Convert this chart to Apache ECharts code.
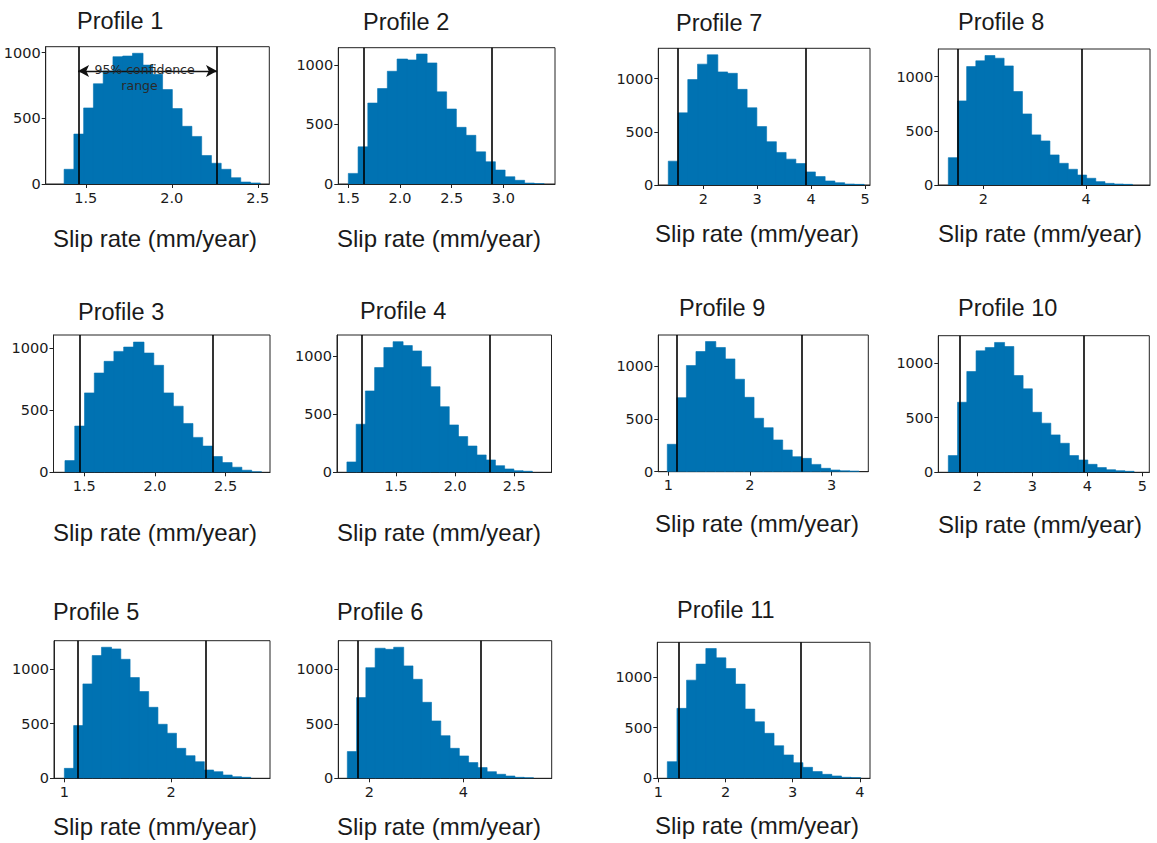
<!DOCTYPE html>
<html>
<head>
<meta charset="utf-8">
<script src="https://cdn.jsdelivr.net/npm/echarts@6/dist/echarts.min.js"></script>
<style>
html,body{margin:0;padding:0;background:#ffffff;}
#chart{width:1157px;height:843px;}
</style>
</head>
<body>
<div id="chart"></div>
<script>
// ---------------- DATA ----------------
const profileNames = ['Profile 1','Profile 2','Profile 3','Profile 4','Profile 5','Profile 6',
                      'Profile 7','Profile 8','Profile 9','Profile 10','Profile 11'];
const xAxisTitle = 'Slip rate (mm/year)';
const yTickLabels = ['0', '500', '1000'];
const annotationText = ['95% confidence', 'range'];

// histogram counts (20 bins each)
const counts1  = [112, 380, 579, 763, 860, 969, 974, 995, 905, 835, 719, 574, 439, 362, 217, 158, 112, 48, 15, 8];
const counts2  = [89, 312, 680, 802, 947, 1050, 1042, 1092, 1017, 774, 630, 476, 409, 270, 187, 117, 61, 31, 8, 3];
const counts3  = [94, 372, 639, 799, 893, 973, 1008, 1048, 960, 861, 639, 532, 393, 281, 211, 127, 78, 41, 17, 5];
const counts4  = [89, 413, 699, 900, 1072, 1123, 1089, 1043, 908, 736, 564, 407, 307, 226, 149, 106, 57, 29, 14, 9];
const counts5  = [91, 482, 863, 1122, 1198, 1183, 1088, 921, 793, 649, 494, 412, 274, 207, 152, 76, 61, 30, 15, 9];
const counts6  = [245, 740, 1015, 1193, 1183, 1202, 1031, 908, 697, 526, 391, 275, 205, 144, 98, 61, 37, 21, 9, 6];
const counts7  = [224, 678, 991, 1136, 1224, 1063, 1050, 899, 726, 549, 407, 306, 243, 202, 123, 79, 38, 22, 9, 6];
const counts8  = [252, 775, 1092, 1145, 1194, 1169, 1098, 862, 655, 462, 406, 277, 200, 145, 92, 62, 31, 15, 9, 6];
const counts9  = [259, 700, 1003, 1136, 1230, 1174, 1066, 874, 703, 505, 416, 300, 205, 142, 126, 69, 32, 16, 9, 6];
const counts10 = [153, 642, 924, 1113, 1144, 1190, 1153, 887, 765, 550, 450, 343, 266, 153, 113, 73, 43, 24, 15, 9];
const counts11 = [164, 689, 967, 1125, 1279, 1187, 1082, 928, 682, 557, 443, 321, 230, 154, 108, 66, 39, 23, 10, 7];

// lower / upper edge of the binned range (mm/year)
const binRange1  = [1.374, 2.510];
const binRange2  = [1.500, 3.387];
const binRange3  = [1.363, 2.748];
const binRange4  = [1.083, 2.647];
const binRange5  = [1.000, 2.740];
const binRange6  = [1.532, 5.475];
const binRange7  = [1.350, 4.970];
const binRange8  = [1.318, 4.890];
const binRange9  = [0.988, 3.327];
const binRange10 = [1.473, 4.836];
const binRange11 = [1.134, 4.000];

// 95% confidence bounds (vertical lines)
const ci1  = [1.455, 2.263];
const ci2  = [1.645, 2.890];
const ci3  = [1.465, 2.413];
const ci4  = [1.210, 2.289];
const ci5  = [1.131, 2.325];
const ci6  = [1.752, 4.355];
const ci7  = [1.524, 3.895];
const ci8  = [1.500, 3.916];
const ci9  = [1.110, 2.637];
const ci10 = [1.685, 3.940];
const ci11 = [1.297, 3.119];

// x tick labels
const xTicks1  = ['1.5', '2.0', '2.5'];
const xTicks2  = ['1.5', '2.0', '2.5', '3.0'];
const xTicks3  = ['1.5', '2.0', '2.5'];
const xTicks4  = ['1.5', '2.0', '2.5'];
const xTicks5  = ['1', '2'];
const xTicks6  = ['2', '4'];
const xTicks7  = ['2', '3', '4', '5'];
const xTicks8  = ['2', '4'];
const xTicks9  = ['1', '2', '3'];
const xTicks10 = ['2', '3', '4', '5'];
const xTicks11 = ['1', '2', '3', '4'];

const annotationLevel = 860; // count level of the confidence-range arrow in Profile 1

// ---------------- LAYOUT (styles / positions) ----------------
const BAR_COLOR = '#0072B2';
const FRAME = '#222222';
const TXT = '#1a1a1a';
const SANS = '"Liberation Sans", Arial, sans-serif';
const TICKFONT = 'DejaVu Sans, sans-serif';

// grid box [left, top, right, bottom] in px, axis limits, title & xlabel anchors
const layout = [
  {grid:[45.7, 46.7, 269.3, 184], xr:[1.267, 2.567], ymax:1045, title:[77, 20.7],  xl:[53, 238]},
  {grid:[338.3, 47.7, 555, 184],  xr:[1.403, 3.50],  ymax:1145, title:[363, 21.7], xl:[337, 238]},
  {grid:[53.5, 335, 270, 472.3],  xr:[1.282, 2.814], ymax:1105, title:[78, 311.7], xl:[53, 532]},
  {grid:[337, 335, 551.5, 472.3], xr:[0.999, 2.816], ymax:1180, title:[360, 310.7],xl:[337, 532]},
  {grid:[54, 640.7, 270, 778.3],  xr:[0.903, 2.928], ymax:1258, title:[53, 611.7], xl:[53, 826.7]},
  {grid:[338.3, 640.7, 551.7, 778.3], xr:[1.34, 5.88], ymax:1262, title:[337, 611.7], xl:[337, 826.7]},
  {grid:[658.3, 48.3, 870, 185],  xr:[1.165, 5.093], ymax:1285, title:[676, 22.7], xl:[655, 233]},
  {grid:[938.3, 49, 1150, 185],   xr:[1.123, 5.247], ymax:1254, title:[958, 21.7], xl:[938, 233]},
  {grid:[658.3, 335, 868.3, 471.7], xr:[0.878, 3.449], ymax:1292, title:[679, 308.3], xl:[655, 523]},
  {grid:[938.3, 335.7, 1149.3, 472.3], xr:[1.291, 5.127], ymax:1252, title:[958, 308.3], xl:[938, 524]},
  {grid:[657.3, 642.3, 870, 778.3], xr:[0.985, 4.15], ymax:1340, title:[677, 610], xl:[655, 825]}
];

const allCounts = [counts1,counts2,counts3,counts4,counts5,counts6,counts7,counts8,counts9,counts10,counts11];
const allRanges = [binRange1,binRange2,binRange3,binRange4,binRange5,binRange6,binRange7,binRange8,binRange9,binRange10,binRange11];
const allCI = [ci1,ci2,ci3,ci4,ci5,ci6,ci7,ci8,ci9,ci10,ci11];
const allXTicks = [xTicks1,xTicks2,xTicks3,xTicks4,xTicks5,xTicks6,xTicks7,xTicks8,xTicks9,xTicks10,xTicks11];

function histData(counts, range) {
  const n = counts.length;
  const w = (range[1] - range[0]) / n;
  return counts.map((c, i) => [range[0] + i * w, range[0] + (i + 1) * w, c]);
}

function renderBar(params, api) {
  const x0 = api.value(0), x1 = api.value(1), h = api.value(2);
  const p0 = api.coord([x0, 0]);
  const p1 = api.coord([x1, h]);
  return {
    type: 'rect',
    shape: { x: p0[0], y: p1[1], width: (p1[0] - p0[0]) + 0.8, height: p0[1] - p1[1] },
    style: { fill: BAR_COLOR, stroke: BAR_COLOR, lineWidth: 0.6 }
  };
}

const grids = [], xAxes = [], yAxes = [], series = [];
const yTickVals = yTickLabels.map(Number);

layout.forEach((L, i) => {
  const g = L.grid;
  grids.push({
    left: g[0], top: g[1], width: g[2] - g[0], height: g[3] - g[1],
    show: true, borderColor: FRAME, borderWidth: 1, backgroundColor: 'transparent',
    containLabel: false
  });
  const tickLabels = allXTicks[i];
  const tickVals = tickLabels.map(Number);
  xAxes.push({
    type: 'value', gridIndex: i, min: L.xr[0], max: L.xr[1],
    axisLine: { show: true, onZero: false, lineStyle: { color: FRAME, width: 1 } },
    axisTick: { show: true, length: 4, customValues: tickVals, lineStyle: { color: FRAME, width: 1 } },
    axisLabel: {
      show: true, customValues: tickVals, margin: 6,
      fontFamily: TICKFONT, fontSize: 14.5, color: TXT,
      formatter: (v) => { const k = tickVals.findIndex(t => Math.abs(t - v) < 1e-9); return k >= 0 ? tickLabels[k] : ''; }
    },
    splitLine: { show: false }
  });
  yAxes.push({
    type: 'value', gridIndex: i, min: 0, max: L.ymax,
    axisLine: { show: true, lineStyle: { color: FRAME, width: 1 } },
    axisTick: { show: true, length: 4, customValues: yTickVals, lineStyle: { color: FRAME, width: 1 } },
    axisLabel: {
      show: true, customValues: yTickVals, margin: 5,
      fontFamily: TICKFONT, fontSize: 14.5, color: TXT,
      formatter: (v) => { const k = yTickVals.findIndex(t => Math.abs(t - v) < 1e-9); return k >= 0 ? yTickLabels[k] : ''; }
    },
    splitLine: { show: false }
  });
  series.push({
    type: 'custom', name: profileNames[i], xAxisIndex: i, yAxisIndex: i,
    renderItem: renderBar,
    encode: { x: [0, 1], y: 2 },
    data: histData(allCounts[i], allRanges[i]),
    clip: true,
    silent: true,
    markLine: {
      silent: true, symbol: 'none', animation: false,
      label: { show: false },
      lineStyle: { color: '#000000', width: 1.6, type: 'solid' },
      data: allCI[i].map(v => ({ xAxis: v }))
    },
    z: 2
  });
});

// Double-headed arrow spanning the confidence range in Profile 1
series.push({
  type: 'line', xAxisIndex: 0, yAxisIndex: 0,
  data: [[ci1[0], annotationLevel], [ci1[1], annotationLevel]],
  showSymbol: false, silent: true,
  lineStyle: { opacity: 0 },
  markLine: {
    silent: true, animation: false,
    symbol: ['arrow', 'arrow'], symbolSize: [9, 11],
    label: { show: false },
    lineStyle: { color: '#111111', width: 1.3, type: 'solid' },
    data: [[{ coord: [ci1[0], annotationLevel] }, { coord: [ci1[1], annotationLevel] }]]
  },
  z: 5
});

const chart = echarts.init(document.getElementById('chart'), null, { renderer: 'svg', width: 1157, height: 843 });
chart.setOption({
  backgroundColor: '#ffffff',
  animation: false,
  grid: grids,
  xAxis: xAxes,
  yAxis: yAxes,
  series: series
});

// text elements: titles, x-axis titles, annotation
const elements = [];
layout.forEach((L, i) => {
  elements.push({
    type: 'text', id: 't' + i, x: L.title[0], y: L.title[1], silent: true,
    style: { text: profileNames[i], fontFamily: SANS, fontSize: 23.5, fill: TXT,
             textAlign: 'left', textVerticalAlign: 'middle' }
  });
  elements.push({
    type: 'text', id: 'x' + i, x: L.xl[0], y: L.xl[1], silent: true,
    style: { text: xAxisTitle, fontFamily: SANS, fontSize: 24, fill: TXT,
             textAlign: 'left', textVerticalAlign: 'middle' }
  });
});
const mid = chart.convertToPixel({ gridIndex: 0 }, [(ci1[0] + ci1[1]) / 2, annotationLevel]);
elements.push({
  type: 'text', id: 'ann1', x: mid[0] - 3, y: mid[1] - 2, silent: true, z: 10,
  style: { text: annotationText[0], fontFamily: TICKFONT, fontSize: 12.5, fill: '#2a2a2a',
           textAlign: 'center', textVerticalAlign: 'middle' }
});
elements.push({
  type: 'text', id: 'ann2', x: mid[0] - 8, y: mid[1] + 14, silent: true, z: 10,
  style: { text: annotationText[1], fontFamily: TICKFONT, fontSize: 12.5, fill: '#2a2a2a',
           textAlign: 'center', textVerticalAlign: 'middle' }
});
chart.setOption({ graphic: { elements: elements } });
</script>
</body>
</html>
